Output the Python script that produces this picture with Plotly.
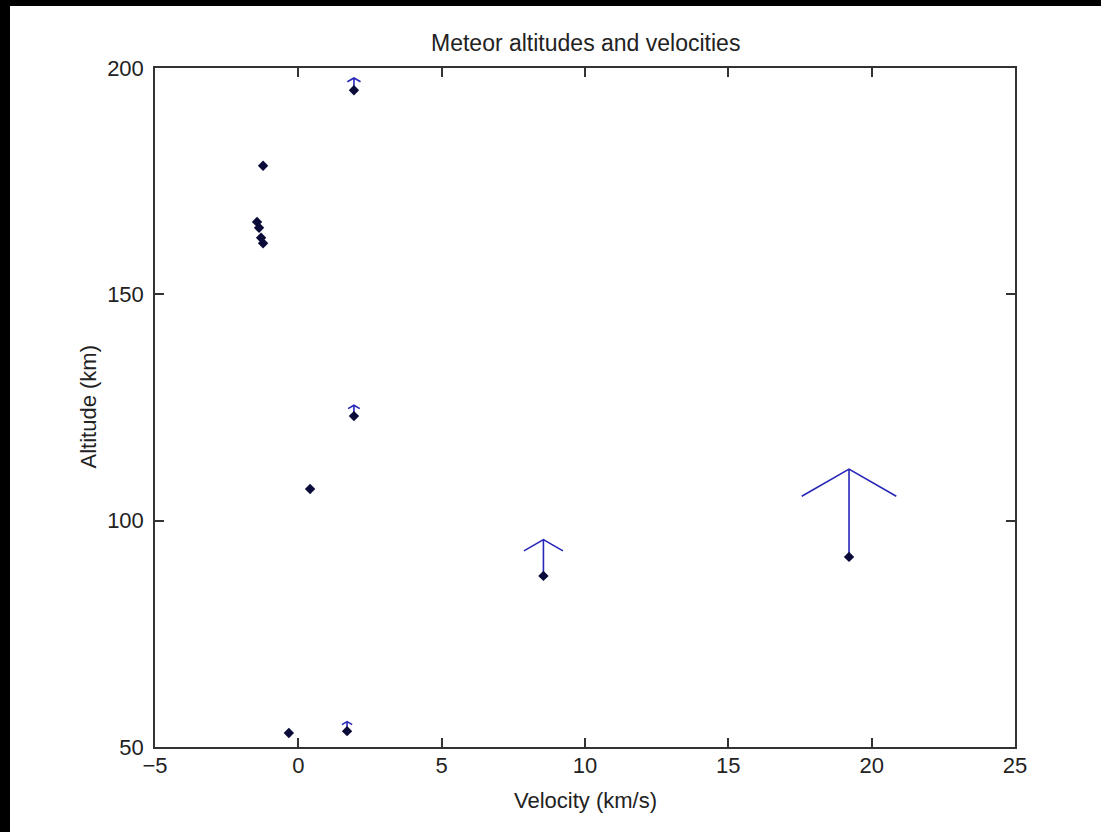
import plotly.graph_objects as go

# Data
velocity = [-1.23, -1.44, -1.37, -1.30, -1.23, 1.94, 1.94, 0.41, -0.33, 1.70, 8.55, 19.21]
altitude = [178.4, 166.0, 164.7, 162.5, 161.3, 195.1, 123.1, 107.0, 53.1, 53.5, 87.8, 92.0]
arrow_len = [0.6, 0.4, 0.4, 0.4, 0.4, 2.7, 2.4, 0.2, 0.2, 2.1, 8.0, 19.4]

x_ticks = [-5, 0, 5, 10, 15, 20, 25]
y_ticks = [50, 100, 150, 200]

HEAD_W = 0.085   # sideways (x units) per km of arrow
HEAD_B = 0.31    # back fraction of arrow length

ax, ay = [], []
for x, y, L in zip(velocity, altitude, arrow_len):
    tip = y + L
    ax += [x, x, None, x - HEAD_W * L, x, x + HEAD_W * L, None]
    ay += [y, tip, None, tip - HEAD_B * L, tip, tip - HEAD_B * L, None]

FONT = "Liberation Sans, Arial, sans-serif"
TXT = "#222222"

fig = go.Figure()
fig.add_trace(go.Scatter(x=ax, y=ay, mode="lines",
                         line=dict(color="#2626b8", width=1.6),
                         hoverinfo="skip", showlegend=False))
fig.add_trace(go.Scatter(x=velocity, y=altitude, mode="markers",
                         marker=dict(symbol="diamond", size=8, color="#0b0b3a"),
                         showlegend=False))

W, H = 1101, 832
L_, R_, T_, B_ = 155, 86, 68, 85
pw, ph = W - L_ - R_, H - T_ - B_

def px(xp):
    return (xp - L_) / pw

def py(yp):
    return (H - B_ - yp) / ph

shapes = [
    dict(type="rect", xref="paper", yref="paper", x0=px(0), x1=px(10), y0=py(H + 5), y1=py(-5),
         fillcolor="black", line=dict(width=0), layer="below"),
    dict(type="rect", xref="paper", yref="paper", x0=px(0), x1=px(W + 5), y0=py(6), y1=py(-5),
         fillcolor="black", line=dict(width=0), layer="below"),
]

axis_common = dict(showgrid=False, zeroline=False, showline=True, mirror="ticks",
                   linecolor="#333333", linewidth=1.5, ticks="inside", ticklen=9,
                   tickcolor="#333333", tickwidth=1.5,
                   tickfont=dict(family=FONT, size=22, color=TXT))

fig.update_layout(
    width=W, height=H,
    margin=dict(l=L_, r=R_, t=T_, b=B_),
    paper_bgcolor="white", plot_bgcolor="white",
    shapes=shapes,
    xaxis=dict(range=[-5, 25], tickvals=x_ticks, ticklabelstandoff=-2, **axis_common),
    yaxis=dict(range=[50, 200], tickvals=y_ticks, ticklabelstandoff=5, **axis_common),
    annotations=[
        dict(text="Meteor altitudes and velocities", xref="paper", yref="paper",
             x=0.5, y=py(43), xanchor="center", yanchor="middle", showarrow=False,
             font=dict(family=FONT, size=23, color=TXT)),
        dict(text="Velocity (km/s)", xref="paper", yref="paper",
             x=0.5, y=py(800), xanchor="center", yanchor="middle", showarrow=False,
             font=dict(family=FONT, size=22, color=TXT)),
        dict(text="Altitude (km)", xref="paper", yref="paper",
             x=px(88), y=0.5, xanchor="center", yanchor="middle", showarrow=False,
             textangle=-90, font=dict(family=FONT, size=22, color=TXT)),
    ],
)

fig.write_html("out.html")
